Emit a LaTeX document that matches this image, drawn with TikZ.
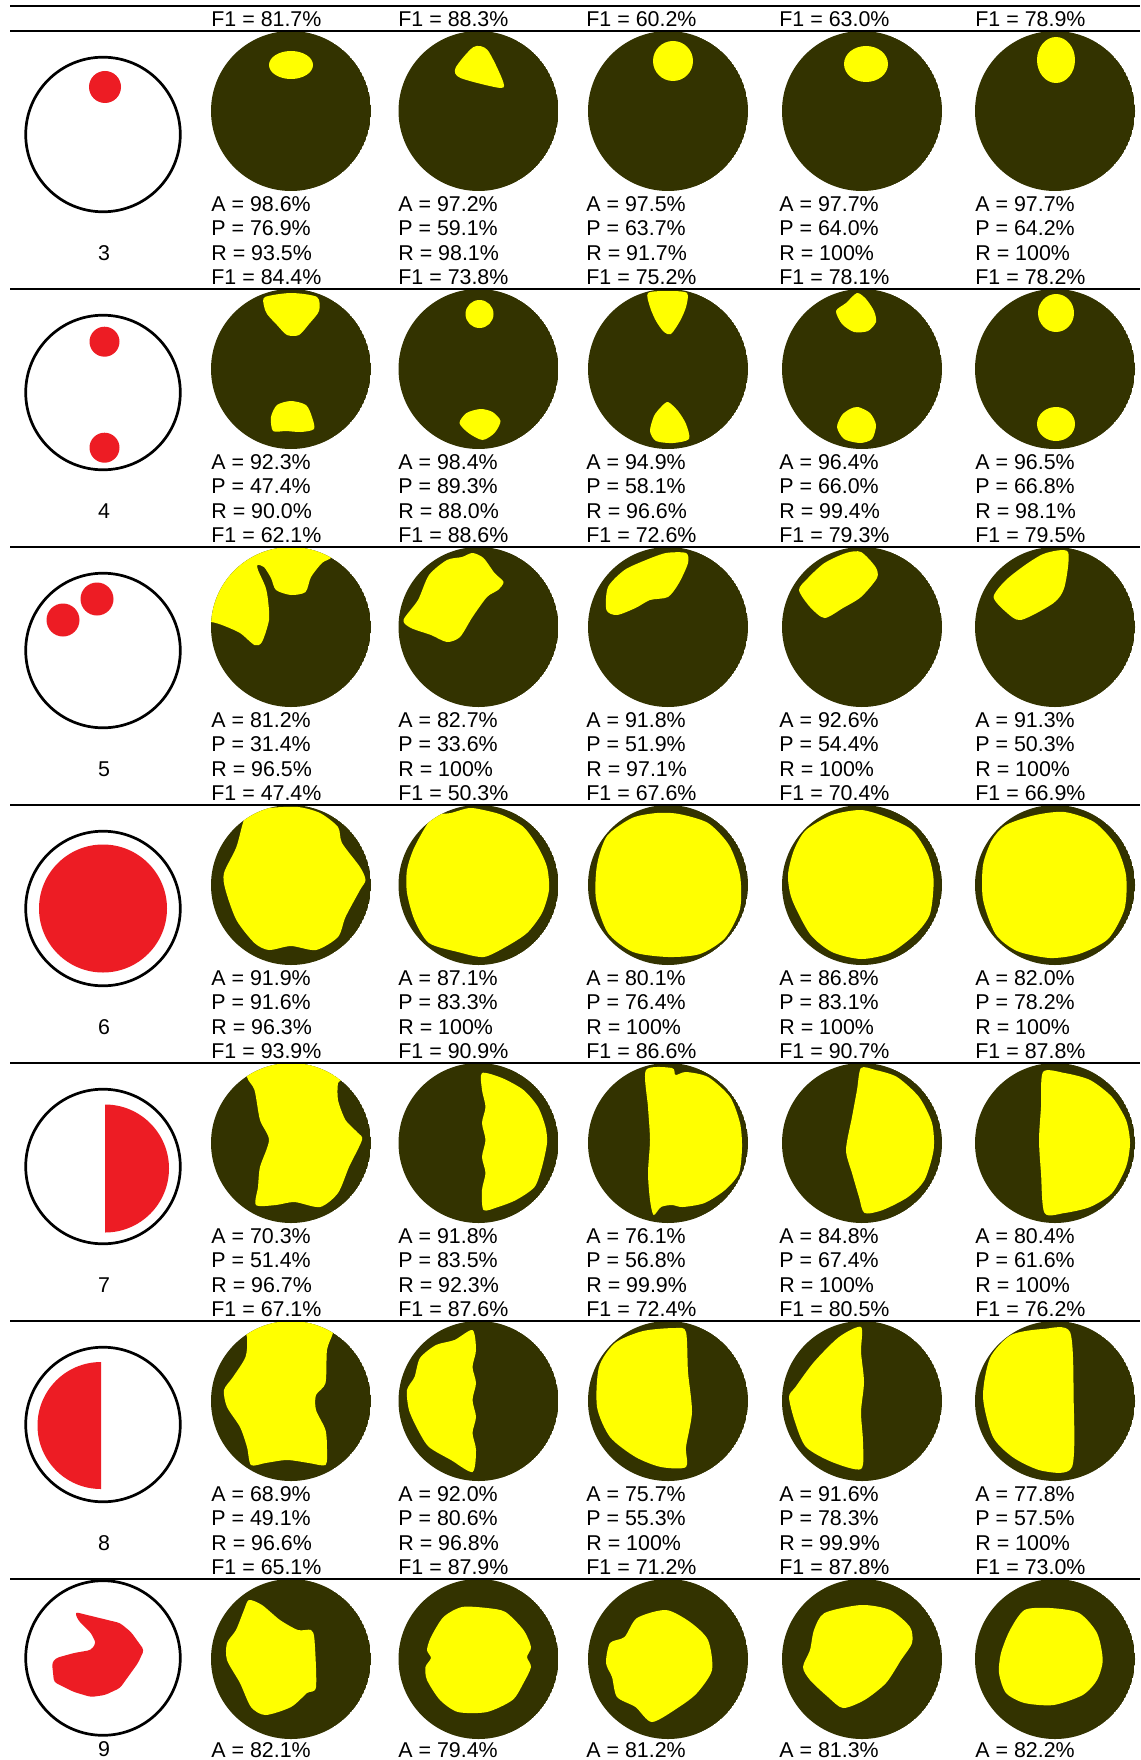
\documentclass[tikz,border=0pt]{standalone}
\usepackage{fontspec}
\setmainfont{Liberation Sans}
\definecolor{segdark}{RGB}{51,51,0}
\definecolor{segyellow}{RGB}{255,255,0}
\definecolor{truthred}{RGB}{237,28,36}

\tikzset{
  metric/.style={anchor=north west, inner sep=0pt, align=left, font=\fontsize{10.7}{12.25}\selectfont},
  rowlabel/.style={inner sep=0pt, font=\fontsize{10.7}{12.25}\selectfont},
  toprule/.style={line width=0.85pt},
  rowrule/.style={line width=0.7pt},
  ring/.style={line width=1.35pt},
}

% one segmentation result: centre #1, yellow part #2
\newcommand{\segcell}[2]{%
  \begin{scope}[shift={(#1)}]
    \clip (0,0) circle (40pt);
    \fill[segdark] (0,0) circle (40pt);
    #2
  \end{scope}}
\newcommand{\yel}[1]{\fill[segyellow] plot[smooth cycle, tension=0.45] coordinates {#1};}
\newcommand{\metrics}[6]{\node[metric] (#1) at (#2) {A = #3\%\\P = #4\%\\R = #5\%\\F1 = #6\%};}

\begin{document}
\begin{tikzpicture}[x=0.5pt, y=-0.5pt]
    \useasboundingbox[fill=white] (0,0) rectangle (1140,1760);

    % ground truth
    \draw[ring] (103,134.5) circle (38.65pt);
    \fill[truthred] (105,87) circle (8pt);
    \draw[ring] (103,392.5) circle (38.65pt);
    \fill[truthred] (104.5,341.7) circle (7.5pt);
    \fill[truthred] (104.5,447.7) circle (7.5pt);
    \draw[ring] (103,650.5) circle (38.65pt);
    \fill[truthred] (97,599) circle (8.25pt);
    \fill[truthred] (63,620) circle (8.25pt);
    \draw[ring] (103,908.5) circle (38.65pt);
    \fill[truthred] (103,908.5) circle (32pt);
    \draw[ring] (103,1166.5) circle (38.65pt);
    \fill[truthred] (105,1104.5) arc[start angle=90, end angle=-90, radius=32pt] -- cycle;
    \draw[ring] (103,1424.5) circle (38.65pt);
    \fill[truthred] (101,1362) arc[start angle=90, end angle=270, radius=31.75pt] -- cycle;
    \draw[ring] (103,1658) circle (38.65pt);
    \fill[truthred, rounded corners=1.5pt] (75,1612) -- (120,1623) -- (131,1632) -- (144,1650) -- (138,1663) -- (120,1688) -- (105,1695) -- (91,1697) -- (74,1692) -- (54,1682) -- (52,1663) -- (56,1658) -- (74,1653) -- (91,1650) -- (96,1643) -- (91,1633) -- (78,1620) -- cycle;

    % row 3
    \segcell{291,111}{\fill[segyellow] (0,-46) ellipse (11pt and 7pt);}
    \segcell{478.5,111}{\yel{(-5,-64) (-23,-43) (-18,-33) (22,-23) (24,-31) (9,-61)}}
    \segcell{668,111}{\fill[segyellow] (5,-50) ellipse (10pt and 10pt);}
    \segcell{862,111}{\fill[segyellow] (4,-47) ellipse (11pt and 9pt);}
    \segcell{1055,111}{\fill[segyellow] (1,-51) ellipse (9.5pt and 11.5pt);}

    % row 4
    \segcell{291,369}{\yel{(-26,-72) (0,-76) (26,-72) (28,-58) (18,-45) (8,-34) (-4,-34) (-14,-44) (-24,-55) (-27,-63)}
      \yel{(0,32) (15,36) (21,48) (23,60) (10,63) (-5,62) (-18,62) (-20,48) (-14,36)}}
    \segcell{478.5,369}{\fill[segyellow] (1,-55) ellipse (7pt and 7pt);
      \yel{(2,40) (14,43) (22,52) (16,64) (4,71) (-10,64) (-19,54) (-12,44)}}
    \segcell{668,369}{\yel{(-20,-76) (0,-78) (19,-76) (18,-62) (12,-48) (3,-35) (-4,-37) (-12,-48) (-18,-62)}
      \yel{(0,33) (10,42) (18,55) (21,70) (5,74) (-12,72) (-18,62) (-14,47) (-7,38)}}
    \segcell{862,369}{\yel{(-5,-76) (4,-70) (12,-58) (14,-47) (6,-38) (-8,-37) (-20,-45) (-26,-58) (-16,-66)}
      \yel{(-4,38) (8,44) (14,56) (10,70) (-2,74) (-18,70) (-25,58) (-20,46) (-12,40)}}
    \segcell{1055,369}{\fill[segyellow] (1,-56) ellipse (9pt and 9.5pt);
      \fill[segyellow] (1,55) ellipse (9.5pt and 8.5pt);}

    % row 5
    \segcell{291,627}{\yel{(-95,-5) (-80,-5) (-69,-2) (-51,6) (-36.5,18) (-29,15) (-22,-7) (-23,-27) (-25.5,-40) (-33,-57) (-33.5,-62) (-27,-60) (-20,-49) (-15,-37) (0,-32) (14.5,-35) (20,-50) (31,-64) (40,-69) (50,-80) (60,-95) (-95,-95)}}
    \segcell{478.5,627}{\yel{(-75,-7) (-60.5,-27) (-49.5,-52) (-31.5,-67) (-16.5,-70) (-6,-74) (5,-69) (16,-54) (25,-45) (19.5,-37) (8.5,-30) (-6,-10) (-18.5,10) (-31.5,15) (-47.5,8) (-67.5,1)}}
    \segcell{668,627}{\yel{(-61.6,-17) (-60,-40) (-43.5,-57) (-22,-67) (-2,-74) (18,-74) (20,-64) (11,-44) (0,-30) (-18,-27) (-32.5,-19) (-51,-12)}}
    \segcell{862,627}{\yel{(-63,-37) (-54,-49) (-37.5,-64) (-16,-74) (-1,-75) (13.5,-60) (15,-49) (-1,-30) (-19,-19) (-37.5,-9) (-52,-20)}}
    \segcell{1055,627}{\yel{(-61.4,-30) (-49,-47) (-27,-64) (-9,-74) (13,-75) (9.5,-40) (-1.4,-24) (-34,-7) (-49,-15)}}

    % row 6
    \segcell{291,885}{\yel{(-44,-72) (-22,-77) (7,-78) (29,-72) (47,-58) (51,-42) (69,-18) (74.5,-5) (69,5) (54.5,32) (47,52) (25,65) (0,61) (-22,65) (-36.5,58) (-54.6,35) (-65.5,5) (-67,-12) (-54.6,-38)}}
    \segcell{478.5,885}{\yel{(-46,-68) (-27.5,-72) (-9.5,-77) (5,-75) (23.5,-70) (45,-58) (59.5,-38) (68.5,-18) (70.5,5) (63.5,28) (48.5,48) (27,62) (5,72) (-20.5,67) (-49.5,58) (-64,35) (-71.5,8) (-71.5,-15) (-64,-38)}}
    \segcell{668,885}{\yel{(11,-71) (40,-62) (61,-40) (72,-10) (72,24) (57,53) (32,69) (0,72) (-35,67) (-60,48) (-72,14.5) (-71,-20) (-61,-49) (-36,-67) (-11,-72)}}
    \segcell{862,885}{\yel{(-56,-55) (-30,-70) (-1,-75) (24,-68) (50,-55) (66,-30) (71.6,-5) (68,29) (53.5,49) (28,68) (-1,74) (-30,67) (-52,49) (-70,14.5) (-74,-10) (-68,-35)}}
    \segcell{1055,885}{\yel{(-49,-60) (-19.5,-70) (9.5,-73) (39,-63) (60.5,-40) (71,-10) (69.5,24) (53,54) (24,69) (-5,73) (-38,66) (-59.5,49) (-72,14.5) (-72,-20) (-63,-45)}}

    % row 7
    \segcell{291,1143}{\yel{(-44,-66) (-36.5,-53) (-31,-23) (-22,-3) (-31,24) (-33,44) (-35,62) (-15,62) (3.5,59) (29,64) (47,50) (58,24) (71,-3) (67,-10) (54.5,-23) (47,-43) (47,-60) (51,-65) (55,-95) (-48,-95)}}
    \segcell{478.5,1143}{\yel{(3.5,-70) (23.5,-65) (45,-53) (59.5,-36) (67,-16) (68.5,0) (63.5,24) (56,44) (37.5,57) (19.5,64) (5,67) (3.5,47) (7,30) (3.5,14) (7,-3) (3.5,-20) (7,-36) (3.5,-53)}}
    \segcell{668,1143}{\yel{(-22,-73) (4,-75) (7.5,-68) (18,-71) (40,-66) (62,-46) (72,-20) (74,4) (71,30) (57,47) (36.5,60) (14.7,64) (4,62) (-7,64) (-14.4,72) (-18,57) (-20,30) (-18,-3) (-20,-36)}}
    \segcell{862,1143}{\yel{(-1,-75) (13.5,-73) (35,-66) (57,-46) (70,-20) (71.6,7) (62.5,37) (46,54) (20.7,67) (2.5,70) (-3,54) (-10,30) (-16,7) (-10,-26) (-5,-53)}}
    \segcell{1055,1143}{\yel{(-12,-71) (9.5,-70) (35,-63) (57,-46) (71,-23) (75,0) (71,24) (57,50) (35,64) (9.5,70) (-10.5,70) (-14,30) (-16,-3) (-14,-36)}}

    % row 8
    \segcell{291,1401}{\yel{(-44,-64) (-45.5,-44) (-58,-24) (-67,-11) (-64,6) (-51,26) (-44,46) (-40,64) (-25.5,62) (-4,59) (18,62) (34.5,64) (36,49) (34.5,29) (25,9) (25,-6) (34.5,-18) (36,-51) (42,-68) (50,-95) (-50,-95)}}
    \segcell{478.5,1401}{\yel{(-6,-71) (-24,-61) (-42.5,-56) (-58.5,-43) (-64,-24) (-71.5,-11) (-69.5,9) (-60.5,29) (-49.5,46) (-27.5,59) (-6,71) (-2.5,49) (-6,32) (-2.5,16) (-6,-1) (-2.5,-18) (-6,-34) (-2.5,-51)}}
    \segcell{668,1401}{\yel{(7.5,-73) (18,-69) (20,-29) (24,11) (18,46) (18,66) (-7,66) (-32.5,56) (-58,36) (-71,6) (-69,-34) (-53,-58) (-25,-70)}}
    \segcell{862,1401}{\yel{(-1,-74) (-23,-64) (-48,-39) (-66.5,-14) (-73,-4) (-67,21) (-56,46) (-30,61) (-1,68) (1,41) (-1,11) (2,-19) (-1,-49)}}
    \segcell{1055,1401}{\yel{(15,-69) (18.6,-4) (17,66) (-12,70) (-41,57) (-62,36) (-72,-4) (-65,-43) (-44,-66) (-12,-72)}}

    % row 9
    \segcell{291,1659}{\yel{(-42,-59) (-29,-54) (-11,-39) (7,-29) (20,-29) (23.5,-19) (25,28) (16,34) (0,48) (-25.5,56) (-40,48) (-51,24) (-64,1) (-64,-16) (-55,-29) (-47,-49)}}
    \segcell{478.5,1659}{\yel{(-16.5,-52) (8.5,-51) (27,-47) (45,-29) (52.5,-12) (48.5,-2) (52.5,8) (45,24) (34,41) (8.5,53) (-20.5,53) (-38.5,41) (-51.5,21) (-53,8) (-47.5,-1) (-51.5,-9) (-47.5,-22) (-35,-42)}}
    \segcell{668,1659}{\yel{(-31,-41) (-2,-49) (22,-37) (40,-19) (44,11) (29,34) (11,48) (-16,63) (-32.5,48) (-51,38) (-56,18) (-62,4) (-58,-16) (-43.5,-22)}}
    \segcell{862,1659}{\yel{(-37.5,-46) (-1,-54) (28,-49) (48,-32) (50,-16) (39,1) (24,24) (2.5,41) (-19,49) (-34,38) (-52,21) (-59,8) (-52,-9) (-48,-29)}}
    \segcell{1055,1659}{\yel{(-30.5,-49) (-5,-51) (24,-46) (42,-26) (47.7,1) (42,21) (27.7,36) (-1.4,46) (-30.5,44) (-49,34) (-56,14) (-54,-6) (-45,-29)}}

    % rules
    \draw[toprule] (10,6) -- (1140,6);
    \draw[toprule] (10,31) -- (1140,31);
    \draw[rowrule] (10,289) -- (1140,289);
    \draw[rowrule] (10,547) -- (1140,547);
    \draw[rowrule] (10,805) -- (1140,805);
    \draw[rowrule] (10,1063) -- (1140,1063);
    \draw[rowrule] (10,1321) -- (1140,1321);
    \draw[rowrule] (10,1579) -- (1140,1579);

    % scores carried over from the row above
    \node[metric] (f21) at (211,11) {F1 = 81.7\%};
    \node[metric] (f22) at (398,11) {F1 = 88.3\%};
    \node[metric] (f23) at (586,11) {F1 = 60.2\%};
    \node[metric] (f24) at (779,11) {F1 = 63.0\%};
    \node[metric] (f25) at (975,11) {F1 = 78.9\%};

    \node[rowlabel] (l3) at (104,253) {3};
    \metrics{m31}{211,196}{98.6}{76.9}{93.5}{84.4}
    \metrics{m32}{398,196}{97.2}{59.1}{98.1}{73.8}
    \metrics{m33}{586,196}{97.5}{63.7}{91.7}{75.2}
    \metrics{m34}{779,196}{97.7}{64.0}{100}{78.1}
    \metrics{m35}{975,196}{97.7}{64.2}{100}{78.2}

    \node[rowlabel] (l4) at (104,511) {4};
    \metrics{m41}{211,454}{92.3}{47.4}{90.0}{62.1}
    \metrics{m42}{398,454}{98.4}{89.3}{88.0}{88.6}
    \metrics{m43}{586,454}{94.9}{58.1}{96.6}{72.6}
    \metrics{m44}{779,454}{96.4}{66.0}{99.4}{79.3}
    \metrics{m45}{975,454}{96.5}{66.8}{98.1}{79.5}

    \node[rowlabel] (l5) at (104,769) {5};
    \metrics{m51}{211,712}{81.2}{31.4}{96.5}{47.4}
    \metrics{m52}{398,712}{82.7}{33.6}{100}{50.3}
    \metrics{m53}{586,712}{91.8}{51.9}{97.1}{67.6}
    \metrics{m54}{779,712}{92.6}{54.4}{100}{70.4}
    \metrics{m55}{975,712}{91.3}{50.3}{100}{66.9}

    \node[rowlabel] (l6) at (104,1027) {6};
    \metrics{m61}{211,970}{91.9}{91.6}{96.3}{93.9}
    \metrics{m62}{398,970}{87.1}{83.3}{100}{90.9}
    \metrics{m63}{586,970}{80.1}{76.4}{100}{86.6}
    \metrics{m64}{779,970}{86.8}{83.1}{100}{90.7}
    \metrics{m65}{975,970}{82.0}{78.2}{100}{87.8}

    \node[rowlabel] (l7) at (104,1285) {7};
    \metrics{m71}{211,1228}{70.3}{51.4}{96.7}{67.1}
    \metrics{m72}{398,1228}{91.8}{83.5}{92.3}{87.6}
    \metrics{m73}{586,1228}{76.1}{56.8}{99.9}{72.4}
    \metrics{m74}{779,1228}{84.8}{67.4}{100}{80.5}
    \metrics{m75}{975,1228}{80.4}{61.6}{100}{76.2}

    \node[rowlabel] (l8) at (104,1543) {8};
    \metrics{m81}{211,1486}{68.9}{49.1}{96.6}{65.1}
    \metrics{m82}{398,1486}{92.0}{80.6}{96.8}{87.9}
    \metrics{m83}{586,1486}{75.7}{55.3}{100}{71.2}
    \metrics{m84}{779,1486}{91.6}{78.3}{99.9}{87.8}
    \metrics{m85}{975,1486}{77.8}{57.5}{100}{73.0}

    \node[rowlabel] (l9) at (104,1749) {9};
    \node[metric] (a91) at (211,1742) {A = 82.1\%};
    \node[metric] (a92) at (398,1742) {A = 79.4\%};
    \node[metric] (a93) at (586,1742) {A = 81.2\%};
    \node[metric] (a94) at (779,1742) {A = 81.3\%};
    \node[metric] (a95) at (975,1742) {A = 82.2\%};
\end{tikzpicture}
\end{document}
